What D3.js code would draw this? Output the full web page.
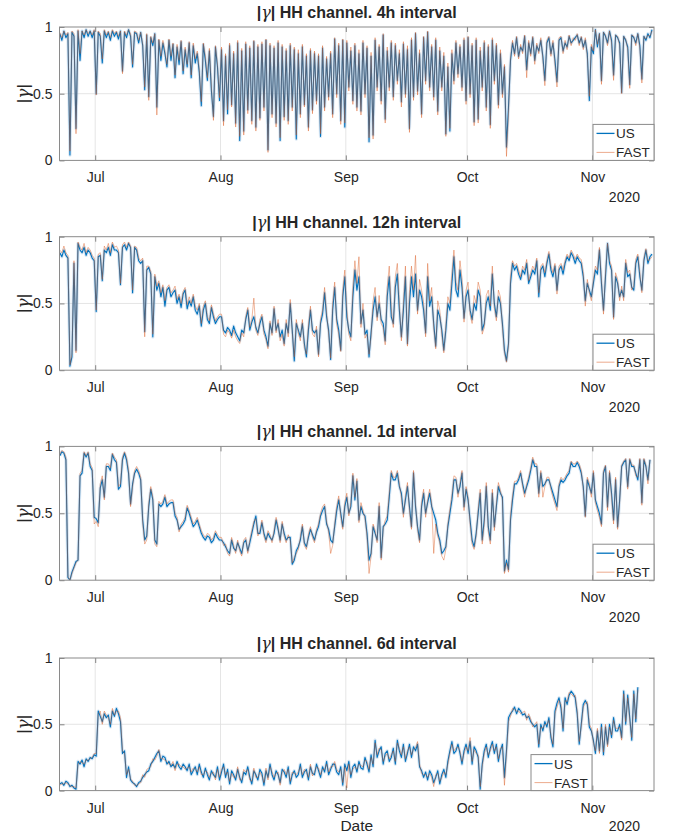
<!DOCTYPE html>
<html>

<head>
    <meta charset="utf-8" />
    <title>|γ| HH channel</title>
    <style>
        body {
            margin: 0;
            background: #ffffff;
        }

        svg text {
            font-family: "Liberation Sans", Arial, Helvetica, sans-serif;
            fill: #262626;
        }
    </style>
</head>

<body>
    <svg id="chart"></svg>

    <script src="https://d3js.org/d3.v7.min.js"></script>
    <script>

        // ---- data (12 h steps starting 22 Jun 2020 06:00) ----
        const startTime = "2020-06-22 06:00";
        const stepHours = 12;

        const intervals = ["4h", "12h", "1d", "6d"];
        const seriesNames = ["US", "FAST"];
        const monthTicks = ["2020-07-01", "2020-08-01", "2020-09-01", "2020-10-01", "2020-11-01"];
        const monthLabels = ["Jul", "Aug", "Sep", "Oct", "Nov"];
        const yTicks = [0, 0.5, 1];
        const yearLabel = "2020";

        const us4h = [.95, .90, .97, .92, .95, .04, .96, .93, .24, .97, .75, .97, .92, .98, .93, .97, .92, .97, .50, .96,
            .93, .73, .97, .92, .96, .90, .97, .93, .96, .91, .97, .67, .96, .92, .98, .93, .70, .96, .95, .88,
            .96, .86, .53, .94, .48, .92, .86, .95, .40, .90, .75, .88, .80, .70, .90, .75, .87, .62, .85, .72,
            .89, .65, .83, .70, .88, .62, .86, .73, .80, .66, .41, .87, .75, .60, .82, .52, .33, .85, .70, .45,
            .83, .30, .78, .35, .86, .42, .80, .28, .88, .15, .82, .22, .87, .38, .84, .30, .89, .25, .85, .32,
            .87, .40, .90, .08, .86, .35, .84, .28, .88, .15, .85, .33, .82, .30, .86, .40, .83, .16, .80, .35,
            .85, .42, .78, .25, .82, .38, .80, .45, .78, .18, .84, .40, .76, .48, .80, .35, .91, .50, .86, .30,
            .90, .25, .88, .55, .82, .45, .86, .40, .80, .37, .88, .50, .84, .14, .78, .19, .90, .55, .85, .45,
            .94, .31, .82, .55, .88, .48, .86, .60, .80, .44, .87, .50, .83, .24, .90, .48, .95, .52, .80, .35,
            .92, .60, .96, .55, .85, .48, .90, .37, .82, .55, .78, .20, .70, .22, .80, .60, .88, .65, .85, .55,
            .90, .45, .92, .50, .86, .29, .90, .31, .82, .55, .88, .40, .85, .27, .90, .60, .86, .42, .80, .50,
            .70, .10, .40, .75, .88, .80, .92, .78, .85, .82, .93, .68, .88, .80, .92, .75, .86, .82, .90, .78,
            .60, .88, .92, .80, .88, .75, .59, .90, .92, .82, .88, .85, .93, .88, .90, .92, .94, .88, .92, .85,
            .90, .80, .45, .85, .80, .98, .85, .95, .60, .96, .93, .88, .97, .90, .64, .94, .92, .88, .51, .93,
            .90, .85, .57, .94, .92, .88, .95, .86, .61, .93, .90, .95, .92, .98];

        const fast4h = [.96, .92, .97, .94, .96, .07, .97, .95, .20, .98, .80, .97, .94, .98, .95, .97, .94, .98, .49, .97,
            .95, .76, .98, .94, .97, .92, .98, .95, .97, .93, .97, .65, .97, .94, .98, .95, .72, .97, .96, .90,
            .96, .87, .55, .95, .45, .93, .88, .95, .34, .91, .78, .90, .82, .72, .91, .78, .88, .64, .87, .75,
            .90, .67, .85, .72, .89, .64, .88, .76, .82, .68, .44, .88, .78, .62, .84, .55, .30, .86, .72, .47,
            .85, .26, .80, .38, .88, .40, .82, .25, .90, .18, .84, .19, .89, .35, .86, .27, .90, .22, .87, .30,
            .89, .37, .91, .06, .88, .32, .86, .25, .90, .17, .87, .30, .84, .27, .88, .37, .85, .19, .83, .32,
            .87, .40, .80, .22, .84, .35, .82, .42, .80, .20, .86, .37, .78, .45, .82, .32, .92, .47, .88, .27,
            .91, .28, .90, .52, .85, .42, .88, .37, .83, .34, .90, .47, .86, .17, .81, .16, .92, .52, .87, .42,
            .95, .28, .85, .52, .90, .45, .88, .57, .83, .40, .89, .47, .86, .21, .92, .45, .96, .49, .83, .32,
            .93, .57, .97, .52, .87, .45, .92, .34, .85, .52, .81, .18, .73, .24, .83, .57, .90, .62, .87, .52,
            .92, .42, .93, .47, .88, .26, .92, .28, .85, .52, .90, .37, .87, .24, .92, .57, .88, .39, .83, .47,
            .72, .03, .35, .77, .90, .78, .93, .76, .87, .80, .94, .62, .90, .78, .93, .72, .88, .80, .92, .76,
            .56, .90, .93, .78, .90, .72, .55, .92, .93, .80, .90, .83, .94, .86, .92, .90, .95, .86, .93, .83,
            .92, .78, .48, .87, .82, .98, .87, .95, .57, .96, .94, .86, .97, .88, .60, .94, .93, .86, .50, .93,
            .91, .83, .54, .94, .93, .86, .95, .84, .58, .93, .91, .94, .93, .97];

        const us12h = [.88, .85, .90, .86, .84, .03, .10, .80, .15, .95, .90, .88, .92, .86, .90, .88, .84, .82, .44, .85,
            .86, .67, .90, .88, .92, .86, .94, .90, .90, .88, .64, .92, .94, .90, .95, .92, .58, .92, .90, .82,
            .80, .82, .29, .75, .77, .72, .25, .70, .60, .65, .55, .62, .48, .60, .62, .55, .58, .60, .50, .55,
            .47, .57, .60, .46, .52, .48, .55, .45, .42, .48, .33, .45, .50, .38, .35, .47, .40, .35, .38, .40,
            .40, .30, .28, .32, .30, .26, .33, .28, .25, .22, .30, .28, .38, .45, .30, .36, .40, .32, .28, .35,
            .40, .30, .25, .18, .35, .28, .46, .30, .35, .25, .30, .20, .35, .28, .50, .30, .07, .35, .30, .25,
            .35, .20, .10, .30, .45, .30, .28, .30, .12, .35, .42, .58, .40, .30, .08, .45, .62, .38, .30, .15,
            .55, .70, .40, .30, .25, .55, .75, .60, .70, .35, .45, .27, .30, .10, .28, .45, .55, .40, .50, .38,
            .35, .22, .55, .70, .40, .35, .62, .72, .45, .25, .45, .70, .20, .50, .70, .55, .72, .45, .60, .55,
            .45, .28, .70, .48, .55, .35, .18, .45, .40, .30, .15, .30, .50, .45, .65, .85, .60, .55, .75, .62,
            .39, .55, .60, .45, .38, .50, .45, .60, .55, .30, .35, .50, .55, .45, .72, .50, .40, .55, .50, .35,
            .15, .07, .20, .65, .80, .75, .78, .72, .68, .75, .72, .80, .65, .70, .75, .72, .82, .55, .75, .78,
            .70, .80, .87, .75, .70, .78, .60, .75, .78, .72, .80, .85, .82, .88, .85, .80, .85, .82, .80, .70,
            .52, .65, .60, .55, .65, .75, .72, .90, .65, .45, .70, .95, .80, .75, .40, .70, .65, .55, .60, .55,
            .80, .70, .72, .62, .60, .80, .85, .70, .60, .82, .90, .80, .85, .87];

        const fast12h = [.90, .88, .93, .88, .86, .04, .12, .82, .13, .96, .92, .90, .95, .88, .92, .90, .86, .84, .45, .87,
            .88, .68, .93, .90, .95, .88, .96, .92, .93, .90, .65, .94, .96, .92, .96, .93, .60, .93, .92, .84,
            .82, .84, .25, .78, .78, .74, .27, .72, .63, .67, .58, .64, .52, .62, .64, .58, .60, .63, .53, .57,
            .50, .59, .62, .49, .55, .50, .57, .48, .45, .50, .35, .48, .52, .40, .37, .49, .42, .37, .40, .42,
            .42, .27, .25, .30, .28, .24, .30, .25, .22, .20, .28, .25, .40, .47, .32, .38, .54, .30, .26, .38,
            .42, .27, .23, .16, .37, .26, .48, .28, .38, .22, .27, .18, .38, .25, .53, .28, .10, .38, .28, .22,
            .38, .17, .12, .33, .48, .27, .25, .33, .10, .38, .45, .62, .43, .27, .09, .50, .66, .35, .27, .14,
            .60, .75, .45, .27, .22, .62, .82, .65, .85, .32, .50, .24, .27, .12, .25, .52, .62, .37, .56, .35,
            .32, .19, .62, .78, .46, .32, .70, .80, .50, .22, .50, .78, .18, .58, .78, .60, .86, .42, .68, .60,
            .50, .25, .80, .52, .62, .32, .16, .52, .45, .27, .13, .33, .55, .50, .72, .90, .66, .60, .82, .68,
            .36, .60, .66, .42, .35, .56, .50, .66, .60, .27, .32, .56, .60, .48, .78, .47, .37, .60, .55, .32,
            .13, .06, .18, .70, .82, .78, .80, .75, .70, .78, .75, .83, .67, .73, .78, .75, .84, .58, .78, .80,
            .73, .82, .89, .78, .73, .80, .57, .78, .80, .75, .82, .87, .84, .90, .87, .83, .87, .84, .83, .73,
            .48, .68, .58, .52, .68, .78, .75, .92, .68, .42, .73, .95, .82, .78, .38, .73, .68, .52, .63, .52,
            .83, .73, .75, .60, .63, .83, .87, .73, .58, .84, .91, .82, .83, .85];

        const us1d = [.93, .96, .95, .90, .02, .00, .06, .10, .14, .15, .78, .80, .95, .92, .95, .85, .82, .47, .46, .43,
            .69, .75, .62, .85, .85, .82, .94, .90, .88, .68, .70, .90, .95, .90, .80, .57, .72, .80, .83, .80,
            .75, .45, .30, .33, .55, .68, .60, .30, .27, .57, .55, .57, .62, .55, .57, .58, .58, .48, .45, .38,
            .40, .42, .45, .54, .50, .45, .40, .42, .45, .40, .35, .32, .30, .33, .32, .28, .30, .35, .32, .30,
            .30, .28, .25, .22, .20, .30, .24, .22, .28, .24, .20, .28, .30, .22, .28, .35, .42, .48, .35, .35,
            .43, .35, .30, .35, .32, .30, .35, .45, .38, .30, .42, .35, .30, .32, .32, .12, .15, .22, .25, .30,
            .40, .28, .25, .32, .38, .34, .30, .36, .40, .48, .52, .55, .42, .38, .30, .28, .40, .52, .60, .50,
            .40, .55, .62, .50, .55, .78, .60, .74, .45, .55, .50, .48, .35, .15, .20, .40, .35, .30, .55, .17,
            .40, .42, .45, .62, .80, .75, .75, .80, .70, .65, .50, .60, .70, .55, .40, .80, .55, .40, .30, .55,
            .65, .50, .58, .65, .55, .50, .45, .35, .30, .20, .22, .25, .40, .50, .60, .75, .75, .65, .70, .80,
            .55, .68, .60, .45, .30, .25, .35, .50, .65, .30, .45, .70, .40, .30, .65, .40, .55, .70, .65, .62,
            .07, .15, .08, .45, .60, .72, .72, .75, .80, .72, .65, .70, .75, .82, .90, .85, .85, .65, .80, .70,
            .72, .75, .75, .70, .65, .60, .55, .70, .75, .73, .75, .78, .80, .88, .85, .85, .88, .85, .80, .70,
            .48, .75, .70, .65, .80, .60, .55, .50, .42, .80, .85, .55, .80, .65, .45, .75, .40, .60, .85, .88,
            .90, .70, .90, .85, .85, .80, .75, .90, .58, .90, .85, .75, .90];

        const fast1d = [.94, .97, .96, .92, .03, .00, .05, .09, .13, .15, .80, .82, .96, .93, .96, .87, .84, .42, .44, .40,
            .72, .78, .60, .87, .87, .84, .95, .92, .90, .70, .72, .92, .96, .92, .82, .55, .70, .82, .85, .82,
            .77, .43, .27, .30, .57, .70, .62, .27, .25, .59, .57, .59, .64, .57, .59, .60, .60, .50, .47, .36,
            .42, .44, .47, .56, .52, .47, .42, .44, .47, .42, .37, .34, .32, .35, .34, .30, .32, .37, .34, .32,
            .32, .26, .27, .20, .18, .32, .26, .20, .30, .22, .18, .30, .32, .20, .30, .37, .44, .46, .33, .37,
            .45, .33, .28, .37, .34, .28, .37, .47, .40, .28, .44, .33, .28, .34, .30, .13, .17, .20, .23, .32,
            .42, .26, .23, .34, .40, .32, .28, .38, .42, .50, .55, .57, .44, .36, .20, .26, .42, .55, .63, .48,
            .38, .58, .65, .48, .58, .80, .62, .76, .43, .58, .52, .46, .33, .05, .18, .42, .37, .28, .58, .15,
            .38, .45, .48, .65, .82, .77, .77, .82, .72, .62, .47, .63, .73, .52, .38, .82, .57, .38, .28, .58,
            .68, .47, .60, .68, .57, .20, .42, .33, .28, .18, .15, .23, .42, .53, .63, .78, .77, .62, .72, .82,
            .52, .70, .62, .42, .27, .23, .33, .53, .68, .27, .42, .73, .37, .27, .68, .37, .57, .73, .67, .60,
            .05, .13, .06, .48, .63, .74, .74, .77, .82, .70, .62, .72, .77, .84, .92, .87, .87, .62, .82, .62,
            .70, .77, .77, .68, .62, .57, .52, .72, .77, .75, .77, .80, .82, .89, .87, .87, .89, .87, .82, .68,
            .47, .77, .72, .62, .82, .58, .52, .47, .40, .82, .86, .52, .82, .62, .42, .77, .38, .58, .86, .89,
            .91, .68, .91, .86, .86, .78, .77, .91, .56, .91, .86, .72, .90];

        const us6d = [.05, .06, .04, .07, .06, .03, .04, .02, .01, .22, .20, .23, .18, .24, .22, .25, .24, .27, .26, .60,
            .56, .52, .58, .55, .57, .48, .60, .56, .62, .58, .52, .28, .30, .10, .18, .08, .06, .05, .03, .06,
            .07, .10, .12, .14, .15, .20, .22, .25, .28, .30, .22, .26, .25, .20, .22, .18, .20, .17, .22, .18,
            .16, .20, .18, .15, .20, .12, .15, .18, .12, .20, .14, .10, .17, .12, .08, .15, .12, .10, .18, .08,
            .14, .20, .10, .16, .05, .15, .12, .08, .16, .10, .06, .14, .12, .18, .10, .05, .15, .12, .08, .16,
            .13, .04, .15, .10, .20, .12, .08, .15, .12, .06, .16, .14, .10, .18, .05, .12, .15, .10, .12, .20,
            .10, .14, .16, .08, .18, .13, .12, .20, .15, .10, .18, .14, .22, .12, .16, .20, .20, .14, .12, .18,
            .04, .20, .15, .22, .10, .18, .20, .14, .22, .17, .16, .25, .20, .14, .27, .18, .38, .25, .30, .33,
            .20, .28, .30, .22, .25, .32, .20, .38, .30, .25, .35, .22, .28, .35, .25, .33, .30, .35, .18, .15,
            .10, .14, .08, .15, .12, .06, .10, .15, .05, .12, .16, .10, .22, .30, .37, .28, .30, .35, .28, .20,
            .30, .35, .28, .37, .20, .33, .30, .25, .01, .20, .30, .35, .25, .32, .37, .28, .35, .22, .30, .35,
            .10, .30, .55, .58, .60, .63, .58, .62, .60, .57, .58, .55, .56, .52, .50, .48, .50, .33, .50, .45,
            .52, .48, .55, .40, .33, .60, .66, .70, .62, .45, .70, .65, .72, .75, .73, .70, .58, .35, .50, .65,
            .68, .65, .48, .45, .38, .28, .45, .30, .50, .27, .48, .35, .50, .40, .55, .45, .45, .50, .40, .75,
            .50, .72, .55, .38, .75, .52, .78];

        const fast6d = [.04, .05, .05, .06, .05, .04, .03, .03, .02, .20, .22, .21, .20, .23, .23, .24, .25, .28, .28, .58,
            .60, .50, .60, .57, .55, .50, .62, .57, .60, .60, .55, .30, .28, .12, .16, .09, .07, .04, .04, .05,
            .06, .12, .10, .16, .17, .18, .24, .23, .26, .31, .24, .24, .23, .22, .20, .19, .22, .15, .20, .20,
            .18, .18, .16, .17, .18, .14, .17, .16, .14, .18, .12, .12, .15, .14, .10, .13, .14, .08, .16, .10,
            .16, .18, .12, .14, .07, .13, .10, .10, .18, .08, .08, .16, .14, .16, .08, .07, .17, .10, .10, .14,
            .11, .06, .17, .08, .18, .14, .10, .13, .14, .04, .14, .16, .12, .16, .07, .14, .13, .12, .14, .18,
            .12, .16, .14, .10, .20, .11, .14, .18, .17, .12, .16, .16, .20, .14, .18, .18, .22, .16, .14, .16,
            .06, .18, .02, .20, .12, .16, .18, .16, .20, .19, .18, .23, .22, .16, .25, .20, .36, .27, .32, .31,
            .22, .26, .28, .24, .27, .30, .22, .36, .32, .27, .33, .24, .30, .33, .27, .31, .32, .37, .20, .13,
            .12, .12, .10, .13, .10, .03, .12, .13, .07, .10, .14, .12, .20, .28, .35, .30, .32, .33, .30, .22,
            .28, .33, .30, .40, .22, .31, .28, .27, .03, .18, .28, .33, .27, .30, .35, .30, .33, .24, .32, .33,
            .04, .28, .52, .56, .62, .61, .60, .60, .58, .59, .60, .53, .58, .54, .48, .50, .52, .35, .48, .47,
            .50, .50, .53, .42, .35, .58, .63, .68, .65, .47, .68, .67, .74, .73, .71, .72, .60, .37, .48, .63,
            .66, .67, .50, .47, .36, .30, .47, .28, .48, .29, .50, .33, .48, .42, .53, .47, .47, .48, .38, .73,
            .52, .70, .53, .40, .73, .54, .76];

        const usSeries = [us4h, us12h, us1d, us6d];
        const fastSeries = [fast4h, fast12h, fast1d, fast6d];

        // ---- layout ----
        const width = 674, height = 837;
        const left = 59.5, right = 654;
        const tops = [27, 236.7, 446.4, 658];
        const bottoms = [160.4, 370.2, 580.2, 790.6];
        const colors = { US: "#0072BD", FAST: "#D95319" };

        const parseTime = d3.timeParse("%Y-%m-%d %H:%M");
        const parseDay = d3.timeParse("%Y-%m-%d");
        const t0 = parseTime(startTime);
        const timeAt = i => d3.timeHour.offset(t0, i * stepHours);
        const months = monthTicks.map(parseDay);

        let svg = d3.select("#chart")
            .attr("width", width)
            .attr("height", height)
            .style("display", "block");

        svg.append("rect").attr("width", width).attr("height", height).attr("fill", "#ffffff");

        const x = d3.scaleTime()
            .domain([parseTime("2020-06-22 04:00"), parseTime("2020-11-16 06:00")])
            .range([left, right]);

        intervals.forEach((iv, k) => {
            const top = tops[k], bottom = bottoms[k];
            const y = d3.scaleLinear().domain([0, 1]).range([bottom, top]);
            const g = svg.append("g");

            // grid
            g.append("g").selectAll("line").data(months).join("line")
                .attr("x1", d => x(d)).attr("x2", d => x(d))
                .attr("y1", top).attr("y2", bottom)
                .attr("stroke", "#dedede").attr("stroke-width", 0.8);
            g.append("line")
                .attr("x1", left).attr("x2", right)
                .attr("y1", y(0.5)).attr("y2", y(0.5))
                .attr("stroke", "#dedede").attr("stroke-width", 0.8);

            // clip
            g.append("clipPath").attr("id", "clip" + k)
                .append("rect").attr("x", left).attr("y", top)
                .attr("width", right - left).attr("height", bottom - top);

            const line = d3.line()
                .x((d, i) => x(timeAt(i)))
                .y(d => y(d));

            const lines = g.append("g").attr("clip-path", "url(#clip" + k + ")");
            // soft halo, like the blurred original
            lines.append("path")
                .datum(usSeries[k])
                .attr("d", line)
                .attr("fill", "none")
                .attr("stroke", "#a8c8e4")
                .attr("stroke-width", 3.2)
                .attr("stroke-opacity", 0.45)
                .attr("stroke-linejoin", "round");
            lines.append("path")
                .datum(usSeries[k])
                .attr("d", line)
                .attr("fill", "none")
                .attr("stroke", colors.US)
                .attr("stroke-width", 1.1)
                .attr("stroke-linejoin", "round");
            lines.append("path")
                .datum(fastSeries[k])
                .attr("d", line)
                .attr("fill", "none")
                .attr("stroke", colors.FAST)
                .attr("stroke-width", 0.7)
                .attr("stroke-opacity", 0.6)
                .attr("stroke-linejoin", "round");

            // axes
            const xAxis = d3.axisBottom(x).tickValues(months)
                .tickFormat((d, i) => monthLabels[i])
                .tickSizeInner(-5).tickSizeOuter(0).tickPadding(12);
            const gx = g.append("g").attr("transform", "translate(0," + bottom + ")").call(xAxis);
            const gxt = g.append("g").attr("transform", "translate(0," + top + ")")
                .call(d3.axisTop(x).tickValues(months).tickFormat("").tickSizeInner(-5).tickSizeOuter(0));
            const yAxis = d3.axisLeft(y).tickValues(yTicks)
                .tickFormat(d => String(d))
                .tickSizeInner(-5).tickSizeOuter(0).tickPadding(7);
            const gy = g.append("g").attr("transform", "translate(" + left + ",0)").call(yAxis);
            const gyr = g.append("g").attr("transform", "translate(" + right + ",0)")
                .call(d3.axisRight(y).tickValues(yTicks).tickFormat("").tickSizeInner(-5).tickSizeOuter(0));

            [gx, gxt, gy, gyr].forEach(a => {
                a.select(".domain").remove();
                a.selectAll(".tick line").attr("stroke", "#555555").attr("stroke-width", 0.7);
                a.selectAll("text").attr("fill", "#262626").style("font-size", "14px")
                    .style("font-family", "'Liberation Sans', Arial, sans-serif");
            });

            // box
            g.append("rect")
                .attr("x", left).attr("y", top)
                .attr("width", right - left).attr("height", bottom - top)
                .attr("fill", "none").attr("stroke", "#8a8a8a").attr("stroke-width", 1);

            // year label
            g.append("text")
                .attr("x", 640).attr("y", bottom + (k === 3 ? 40 : 42))
                .attr("text-anchor", "end")
                .style("font-size", "14px")
                .text(yearLabel);

            // title
            const title = g.append("text")
                .attr("x", (left + right) / 2).attr("y", top - 9)
                .attr("text-anchor", "middle")
                .style("font-size", "16px").style("font-weight", "bold");
            title.append("tspan").text("|");
            title.append("tspan").style("font-family", "'DejaVu Serif', 'Liberation Serif', serif")
                .style("font-style", "italic").style("font-weight", "normal").text("γ");
            title.append("tspan").text("| HH channel. " + iv + " interval");

            // y label
            const yl = g.append("text")
                .attr("transform", "translate(29," + ((top + bottom) / 2) + ") rotate(-90)")
                .attr("text-anchor", "middle")
                .style("font-size", "17px");
            yl.append("tspan").text("|");
            yl.append("tspan").style("font-family", "'DejaVu Serif', 'Liberation Serif', serif")
                .style("font-style", "italic").text("γ");
            yl.append("tspan").text("|");

            // legend
            const lw = 61, lh = 36;
            const lx = k === 3 ? 531 : right - lw;
            const ly = bottom - lh;
            const lg = g.append("g").attr("transform", "translate(" + lx + "," + ly + ")");
            lg.append("rect").attr("width", lw).attr("height", lh)
                .attr("fill", "#ffffff").attr("stroke", "#8a8a8a").attr("stroke-width", 1);
            seriesNames.forEach((name, j) => {
                const yy = 9 + j * 19;
                lg.append("line")
                    .attr("x1", 3.5).attr("x2", 21.5).attr("y1", yy).attr("y2", yy)
                    .attr("stroke", colors[name])
                    .attr("stroke-width", name === "US" ? 1.3 : 0.9)
                    .attr("stroke-opacity", name === "US" ? 1 : 0.55);
                lg.append("text")
                    .attr("x", 23).attr("y", yy + 5)
                    .style("font-size", "13.5px")
                    .text(name);
            });
        });

        // x label
        svg.append("text")
            .attr("x", (left + right) / 2).attr("y", 831)
            .attr("text-anchor", "middle")
            .style("font-size", "15.5px")
            .text("Date");

    </script>
</body>

</html>
